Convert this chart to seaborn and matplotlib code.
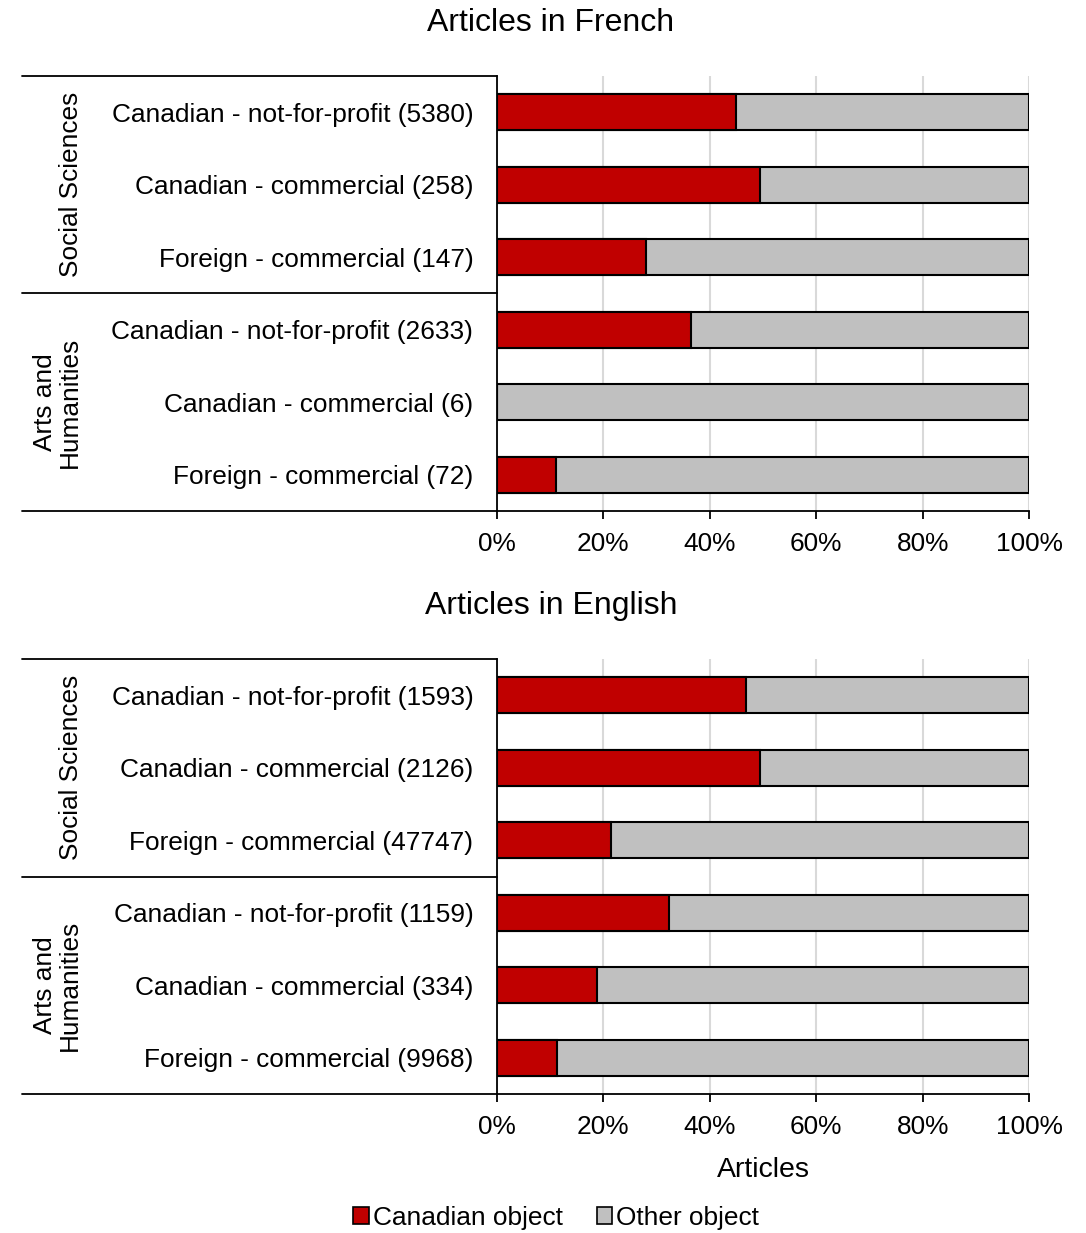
import numpy as np
import pandas as pd
import matplotlib
matplotlib.use('Agg')
import matplotlib.pyplot as plt
import seaborn as sns
from matplotlib.patches import Patch

# Share of articles with a Canadian object (%).
french_labels = ['Canadian - not-for-profit (5380)',
                 'Canadian - commercial (258)',
                 'Foreign - commercial (147)',
                 'Canadian - not-for-profit (2633)',
                 'Canadian - commercial (6)',
                 'Foreign - commercial (72)']
french_canadian = [44.9, 49.4, 28.0, 36.5, 0.0, 11.1]

english_labels = ['Canadian - not-for-profit (1593)',
                  'Canadian - commercial (2126)',
                  'Foreign - commercial (47747)',
                  'Canadian - not-for-profit (1159)',
                  'Canadian - commercial (334)',
                  'Foreign - commercial (9968)']
english_canadian = [46.9, 49.5, 21.5, 32.3, 18.8, 11.3]

groups = ['Social Sciences', 'Arts and\nHumanities']
xticks = [0, 20, 40, 60, 80, 100]
xtick_labels = ['0%', '20%', '40%', '60%', '80%', '100%']

RED = '#C00000'
GREY = '#C0C0C0'

sns.set_style('white')
plt.rcParams['font.family'] = ['Liberation Sans', 'DejaVu Sans']
plt.rcParams['text.color'] = 'black'
plt.rcParams['axes.labelcolor'] = 'black'
plt.rcParams['xtick.color'] = 'black'
plt.rcParams['ytick.color'] = 'black'

fig = plt.figure(figsize=(10.86, 12.33), dpi=100)
ax_fr = fig.add_axes([0.4576, 0.5856, 0.4899, 0.3528])
ax_en = fig.add_axes([0.4576, 0.1127, 0.4899, 0.3528])


def draw_panel(ax, labels, canadian):
    df = pd.DataFrame({'label': labels,
                       'canadian': canadian,
                       'total': [100.0] * len(labels)})
    sns.barplot(data=df, x='total', y='label', color=GREY, width=0.5,
                edgecolor='black', linewidth=1.5, saturation=1, ax=ax, zorder=3)
    sns.barplot(data=df, x='canadian', y='label', color=RED, width=0.5,
                edgecolor='black', linewidth=1.5, saturation=1, ax=ax, zorder=4)
    ax.set_xlim(0, 100)
    ax.set_ylim(len(labels) - 0.5, -0.5)
    ax.set_xticks(xticks)
    ax.set_xticklabels(xtick_labels)
    ax.xaxis.grid(True, color='#d9d9d9', linewidth=1.5, zorder=0)
    ax.yaxis.grid(False)
    ax.set_axisbelow(True)
    for side in ['top', 'right']:
        ax.spines[side].set_visible(False)
    for side in ['left', 'bottom']:
        ax.spines[side].set_color('black')
        ax.spines[side].set_linewidth(1.3)
    ax.tick_params(axis='x', bottom=True, length=6, width=1.3, color='black',
                   labelsize=18.9, pad=9)
    ax.tick_params(axis='y', left=False, length=0, labelsize=18.9, pad=17)
    ax.set_ylabel('')
    ax.set_xlabel('')

    # multi-level category bracket on the left
    x0 = -0.893
    for yy in [0.0, 0.5, 1.0]:
        ax.plot([x0, 0], [yy, yy], transform=ax.transAxes, color='black',
                linewidth=1.3, clip_on=False)
    ax.text(-0.801, 0.75, groups[0], transform=ax.transAxes, rotation=90,
            ha='center', va='center', fontsize=18.9)
    ax.text(-0.826, 0.25, groups[1], transform=ax.transAxes, rotation=90,
            ha='center', va='center', multialignment='center', fontsize=18.9,
            linespacing=1.05)


draw_panel(ax_fr, french_labels, french_canadian)
draw_panel(ax_en, english_labels, english_canadian)

fig.text(551 / 1086, 1 - 23 / 1233, 'Articles in French', ha='center',
         va='center', fontsize=23)
fig.text(551 / 1086, 1 - 606 / 1233, 'Articles in English', ha='center',
         va='center', fontsize=23)
ax_en.set_xlabel('Articles', fontsize=20.5, labelpad=13)

handles = [Patch(facecolor=RED, edgecolor='black', linewidth=1.2, label='Canadian object'),
           Patch(facecolor=GREY, edgecolor='black', linewidth=1.2, label='Other object')]
fig.legend(handles=handles, loc='center', bbox_to_anchor=(556 / 1086, 1 - 1218 / 1233),
           ncol=2, frameon=False, fontsize=18.9, handlelength=0.6,
           handleheight=0.6, handletextpad=0.15, columnspacing=1.3)

fig.savefig('out.png', dpi=100)
